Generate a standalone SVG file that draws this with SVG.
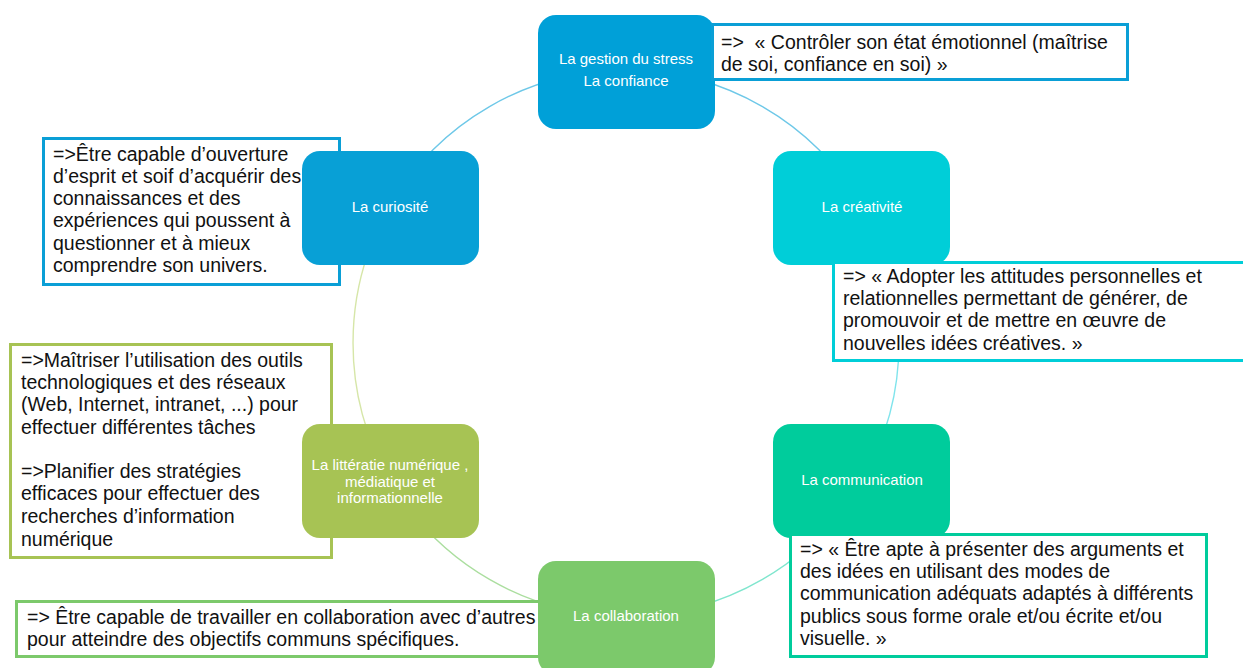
<svg xmlns="http://www.w3.org/2000/svg" width="1243" height="668" viewBox="0 0 1243 668">
<style>
.node text{font-family:"Liberation Sans",Arial,sans-serif;font-size:15px;fill:#fff;text-anchor:middle}
.box rect{fill:#fff;stroke-width:3}
.box text{font-family:"Liberation Sans",Arial,sans-serif;font-size:19.5px;fill:#111}
.arc{fill:none;stroke-width:1.4}
</style>
<rect width="1243" height="668" fill="#fff"/>
<g id="connectors">
<path class="arc" stroke="#6EC8E8" d="M626,70 A273,273 0 0 1 862.4,206.5"/>
<path class="arc" stroke="#80E4EC" d="M862.4,206.5 A273,273 0 0 1 862.4,479.5"/>
<path class="arc" stroke="#80E6CE" d="M862.4,479.5 A273,273 0 0 1 626,616"/>
<path class="arc" stroke="#ABDE9F" d="M626,616 A273,273 0 0 1 389.6,479.5"/>
<path class="arc" stroke="#D6E6A8" d="M389.6,479.5 A273,273 0 0 1 389.6,206.5"/>
<path class="arc" stroke="#6EC8E8" d="M389.6,206.5 A273,273 0 0 1 626,70"/>
</g>
<g id="box-curiosite" class="box">
<rect x="43.5" y="138.5" width="296" height="146" stroke="#0A9FD6"/>
<text x="53" y="161">=&gt;Être capable d’ouverture</text>
<text x="53" y="183">d’esprit et soif d’acquérir des</text>
<text x="53" y="205">connaissances et des</text>
<text x="53" y="227">expériences qui poussent à</text>
<text x="53" y="250">questionner et à mieux</text>
<text x="53" y="272">comprendre son univers.</text>
</g>
<g id="box-litteratie" class="box">
<rect x="10.5" y="344.5" width="321" height="213" stroke="#A7C354"/>
<text x="21" y="367">=&gt;Maîtriser l’utilisation des outils</text>
<text x="21" y="389">technologiques et des réseaux</text>
<text x="21" y="411">(Web, Internet, intranet, ...) pour</text>
<text x="21" y="434">effectuer différentes tâches</text>
<text x="21" y="478">=&gt;Planifier des stratégies</text>
<text x="21" y="500">efficaces pour effectuer des</text>
<text x="21" y="523">recherches d’information</text>
<text x="21" y="546">numérique</text>
</g>
<g id="box-collaboration" class="box">
<rect x="16.5" y="601.5" width="524" height="55" stroke="#7CC96B"/>
<text x="27" y="624">=&gt; Être capable de travailler en collaboration avec d’autres</text>
<text x="27" y="646">pour atteindre des objectifs communs spécifiques.</text>
</g>
<g id="node-stress" class="node">
<rect x="538" y="15" width="177" height="114" rx="18" fill="#00A0D8"/>
<text x="626" y="64">La gestion du stress</text>
<text x="626" y="86">La confiance</text>
</g>
<g id="node-curiosite" class="node">
<rect x="302" y="151" width="177" height="114" rx="18" fill="#08A0D6"/>
<text x="390" y="212">La curiosité</text>
</g>
<g id="node-creativite" class="node">
<rect x="773" y="151" width="177" height="114" rx="18" fill="#00CED8"/>
<text x="862" y="212">La créativité</text>
</g>
<g id="node-communication" class="node">
<rect x="773" y="424" width="177" height="114" rx="18" fill="#00CC9C"/>
<text x="862" y="485">La communication</text>
</g>
<g id="node-litteratie" class="node">
<rect x="302" y="424" width="177" height="114" rx="18" fill="#A7C354"/>
<text x="390" y="470">La littératie numérique ,</text>
<text x="390" y="487">médiatique et</text>
<text x="390" y="503">informationnelle</text>
</g>
<g id="node-collaboration" class="node">
<rect x="538" y="561" width="177" height="114" rx="18" fill="#7CC96B"/>
<text x="626" y="621">La collaboration</text>
</g>
<g id="box-stress" class="box">
<rect x="712.5" y="24.5" width="415" height="55" stroke="#0A9FD6"/>
<text x="721" y="49" xml:space="preserve">=&gt;  « Contrôler son état émotionnel (maîtrise</text>
<text x="721" y="71">de soi, confiance en soi) »</text>
</g>
<g id="box-creativite" class="box">
<rect x="833.5" y="262.5" width="420" height="98" stroke="#00CED8"/>
<text x="843" y="283">=&gt; « Adopter les attitudes personnelles et</text>
<text x="843" y="305">relationnelles permettant de générer, de</text>
<text x="843" y="327">promouvoir et de mettre en œuvre de</text>
<text x="843" y="350">nouvelles idées créatives. »</text>
</g>
<g id="box-communication" class="box">
<rect x="790.5" y="534.5" width="416" height="122" stroke="#00CC9C"/>
<text x="800" y="556">=&gt; « Être apte à présenter des arguments et</text>
<text x="800" y="578">des idées en utilisant des modes de</text>
<text x="800" y="600">communication adéquats adaptés à différents</text>
<text x="800" y="623">publics sous forme orale et/ou écrite et/ou</text>
<text x="800" y="645">visuelle. »</text>
</g>
</svg>
